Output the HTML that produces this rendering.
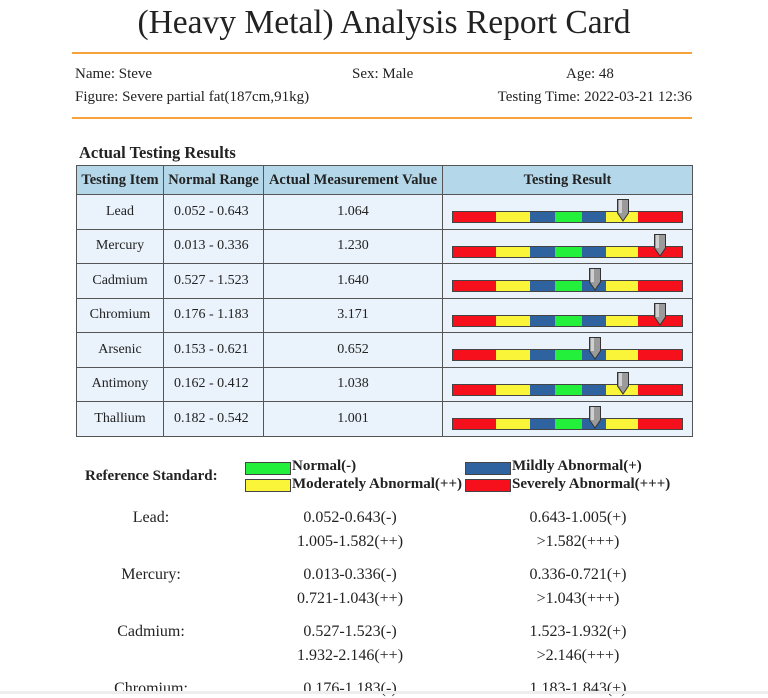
<!DOCTYPE html>
<html><head><meta charset="utf-8">
<style>
body{margin:0;width:768px;height:694px;background:#fff;font-family:"Liberation Serif",serif;color:#222;position:relative;overflow:hidden}
.a{position:absolute;white-space:nowrap}
table{position:absolute;left:76px;top:165px;border-collapse:collapse;font-size:14px}
td,th{border:1px solid #555;text-align:center;padding:0;height:33.5px}
th{background:#b4d8ea;height:28px;font-weight:bold;font-size:14.5px}
td{background:#eaf3fb}
td.l{text-align:left;padding-left:10px}
.sw{position:absolute;width:44px;height:11px;border:1px solid #444}
.lg{font-size:15px;font-weight:bold}
</style></head><body>
<div class="a" style="left:0;width:768px;text-align:center;top:1px;font-size:33.5px;line-height:44px">(Heavy Metal) Analysis Report Card</div>
<div class="a" style="left:72px;top:52px;width:620px;height:2px;background:#f7a23a"></div>
<div class="a" style="left:75px;top:66px;font-size:15px">Name: Steve</div>
<div class="a" style="left:352px;top:66px;font-size:15px">Sex: Male</div>
<div class="a" style="left:566px;top:66px;font-size:15px">Age: 48</div>
<div class="a" style="left:75px;top:89px;font-size:15px">Figure: Severe partial fat(187cm,91kg)</div>
<div class="a" style="right:76px;top:89px;font-size:15px">Testing Time: 2022-03-21 12:36</div>
<div class="a" style="left:72px;top:117px;width:620px;height:2px;background:#f7a23a"></div>
<div class="a" style="left:79px;top:143px;font-size:16.5px;font-weight:bold">Actual Testing Results</div>
<table>
<thead><tr><th style="width:86px">Testing Item</th><th style="width:99px">Normal Range</th><th style="width:178px">Actual Measurement Value</th><th style="width:249px">Testing Result</th></tr></thead>
<tbody id="tb"></tbody></table>
<div class="a" style="left:85px;top:468px;font-size:15px;font-weight:bold">Reference Standard:</div>
<div class="sw" style="left:245px;top:462px;background:#22f03a"></div>
<div class="a lg" style="left:292px;top:458px">Normal(-)</div>
<div class="sw" style="left:245px;top:479px;background:#fbf53a"></div>
<div class="a lg" style="left:292px;top:476px">Moderately Abnormal(++)</div>
<div class="sw" style="left:465px;top:462px;background:#2e63a0"></div>
<div class="a lg" style="left:512px;top:458px">Mildly Abnormal(+)</div>
<div class="sw" style="left:465px;top:479px;background:#f5101c"></div>
<div class="a lg" style="left:512px;top:476px">Severely Abnormal(+++)</div>
<div id="refs"></div>
<div class="a" style="left:0;top:691px;width:768px;height:3px;background:#eee"></div>
<script>
const items=["Lead","Mercury","Cadmium","Chromium","Arsenic","Antimony","Thallium"];
const ranges=["0.052 - 0.643","0.013 - 0.336","0.527 - 1.523","0.176 - 1.183","0.153 - 0.621","0.162 - 0.412","0.182 - 0.542"];
const values=["1.064","1.230","1.640","3.171","0.652","1.038","1.001"];
const markerScore=[0.742,0.904,0.62,0.904,0.62,0.742,0.62];
const segColors=["#f5101c","#fbf53a","#2e63a0","#22f03a","#2e63a0","#fbf53a","#f5101c"];
const segWidths=[43,34,25,27,24,32,44];
const tb=document.getElementById('tb');
items.forEach((it,i)=>{
 const tr=document.createElement('tr');
 let bar='<div style="position:relative;width:249px;height:33px">';
 let x=10;
 segColors.forEach((c,k)=>{bar+=`<div style="position:absolute;left:${x}px;top:16px;width:${segWidths[k]}px;height:10px;background:${c};border-top:1px solid #444;border-bottom:1px solid #444"></div>`;x+=segWidths[k];});
 bar+=`<div style="position:absolute;left:9px;top:16px;width:229px;height:10px;border:1px solid #444"></div>`;
 const mx=10+markerScore[i]*229;
 bar+=`<svg style="position:absolute;left:${mx-7}px;top:3px" width="14" height="24"><path d="M1.5 1.5H12.5V15L7 23L1.5 15Z" fill="#9a9a9a" stroke="#333" stroke-width="1"/><rect x="3" y="2" width="3" height="13" fill="#d0d0d0"/></svg></div>`;
 tr.innerHTML=`<td>${it}</td><td class="l">${ranges[i]}</td><td>${values[i]}</td><td>${bar}</td>`;
 
 
 tb.appendChild(tr);
});
const refNames=["Lead:","Mercury:","Cadmium:","Chromium:"];
const refA=["0.052-0.643(-)","0.013-0.336(-)","0.527-1.523(-)","0.176-1.183(-)"];
const refB=["0.643-1.005(+)","0.336-0.721(+)","1.523-1.932(+)","1.183-1.843(+)"];
const refC=["1.005-1.582(++)","0.721-1.043(++)","1.932-2.146(++)",""];
const refD=[">1.582(+++)",">1.043(+++)",">2.146(+++)",""];
const R=document.getElementById('refs');
refNames.forEach((n,i)=>{
 const y=509+i*57;
 const mk=(t,c,yy,nm)=>{const d=document.createElement('div');d.className='a';d.style.cssText=`left:${c-100}px;top:${yy}px;width:200px;text-align:center;font-size:16px`;d.textContent=t;
 
 
 R.appendChild(d);};
 mk(n,151,y,'ref-name');mk(refA[i],350,y,'ref-normal');mk(refB[i],578,y,'ref-mild');
 if(refC[i]){mk(refC[i],350,y+24,'ref-moderate');mk(refD[i],578,y+24,'ref-severe');}
});
</script>
</body></html>
